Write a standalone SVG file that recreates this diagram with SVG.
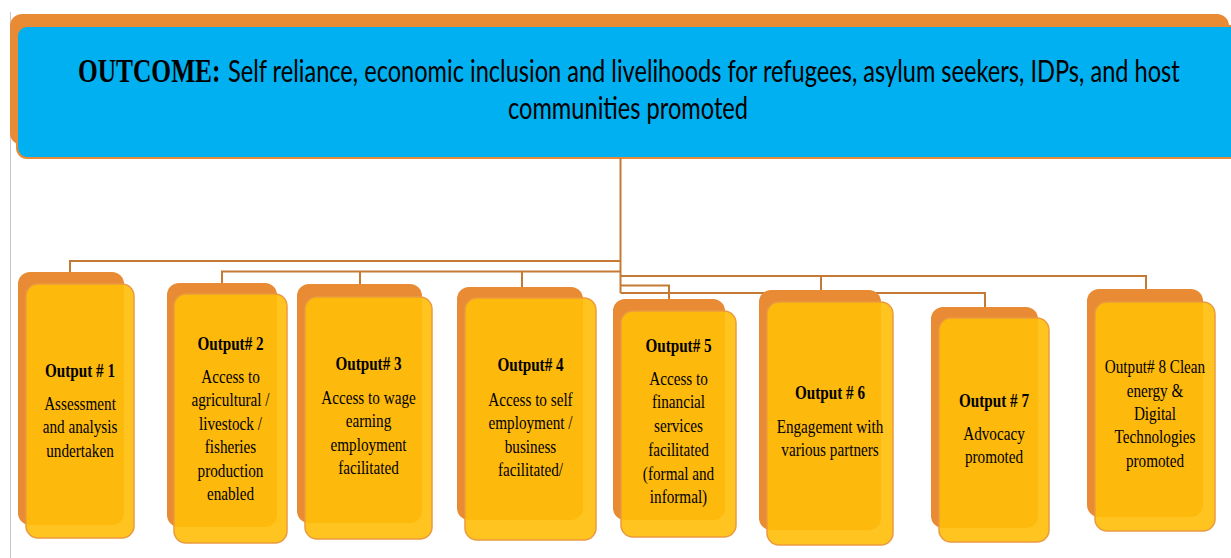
<svg xmlns="http://www.w3.org/2000/svg" width="1231" height="558" viewBox="0 0 1231 558">
<style>
.back{fill:#E88B34}
.front{fill:#FFBE08;fill-opacity:0.9;stroke:#EC9A3E;stroke-width:1.5}
.conn{fill:none;stroke:#C47A34;stroke-width:2}
.t{font-family:"Liberation Serif","Times New Roman",serif;font-size:19px;fill:#000;text-anchor:middle}
.b{font-weight:bold}
.h{font-family:Lato,"Liberation Sans",sans-serif;font-size:30px;fill:#000}
</style>
<rect width="1231" height="558" fill="#fff"/>
<line x1="10.5" y1="12" x2="10.5" y2="558" stroke="#C8C8C8" stroke-width="1"/>
<g id="outcome">
<rect class="back" x="10" y="14" width="1219" height="131" rx="12"/>
<rect x="17" y="26" width="1230" height="132" rx="10" fill="#00B0F0" stroke="#E88B34" stroke-width="2"/>
<g transform="translate(78,0) scale(0.75,1)">
<text x="0" y="82" font-family="'Liberation Serif','Times New Roman',serif" font-weight="bold" font-size="34" textLength="190" lengthAdjust="spacingAndGlyphs">OUTCOME:</text>
</g>
<g transform="translate(228,0) scale(0.75,1)">
<text class="h" x="0" y="82" textLength="1269" lengthAdjust="spacingAndGlyphs">Self reliance, economic inclusion and livelihoods for refugees, asylum seekers, IDPs, and host</text>
</g>
<g transform="translate(508,0) scale(0.75,1)">
<text class="h" x="0" y="119" textLength="320" lengthAdjust="spacingAndGlyphs">communities promoted</text>
</g>
</g>
<g id="connectors" class="conn">
<path d="M620.5,158 V293"/>
<path d="M70,272 V261 H620.5"/>
<path d="M222,283 V271.5 H620.5"/>
<path d="M360,284 V271.5"/>
<path d="M522,287 V271.5"/>
<path d="M620.5,276 H1146 V289"/>
<path d="M821,276 V290"/>
<path d="M620.5,285.5 H669 V299"/>
<path d="M620.5,293 H985 V307"/>
</g>
<g id="output1">
<rect class="back" x="18" y="272" width="106" height="253" rx="12"/>
<rect class="front" x="26" y="284" width="108" height="254" rx="12"/>
<g transform="translate(80,0) scale(0.8,1)">
<text class="t b" x="0" y="377">Output # 1</text>
<text class="t" x="0" y="410">Assessment</text>
<text class="t" x="0" y="433.5">and analysis</text>
<text class="t" x="0" y="457">undertaken</text>
</g>
</g>
<g id="output2">
<rect class="back" x="167" y="283" width="110" height="244" rx="12"/>
<rect class="front" x="174" y="294" width="113" height="249" rx="12"/>
<g transform="translate(230.5,0) scale(0.8,1)">
<text class="t b" x="0" y="350">Output# 2</text>
<text class="t" x="0" y="383">Access to</text>
<text class="t" x="0" y="406.5">agricultural /</text>
<text class="t" x="0" y="430">livestock /</text>
<text class="t" x="0" y="453.5">fisheries</text>
<text class="t" x="0" y="477">production</text>
<text class="t" x="0" y="500">enabled</text>
</g>
</g>
<g id="output3">
<rect class="back" x="297" y="284" width="125" height="239" rx="12"/>
<rect class="front" x="305" y="297" width="127" height="242" rx="12"/>
<g transform="translate(368.5,0) scale(0.8,1)">
<text class="t b" x="0" y="370">Output# 3</text>
<text class="t" x="0" y="404">Access to wage</text>
<text class="t" x="0" y="427.5">earning</text>
<text class="t" x="0" y="451">employment</text>
<text class="t" x="0" y="474">facilitated</text>
</g>
</g>
<g id="output4">
<rect class="back" x="457" y="287" width="126" height="233" rx="12"/>
<rect class="front" x="465" y="298" width="131" height="242" rx="12"/>
<g transform="translate(530.5,0) scale(0.8,1)">
<text class="t b" x="0" y="371">Output# 4</text>
<text class="t" x="0" y="406">Access to self</text>
<text class="t" x="0" y="429.5">employment /</text>
<text class="t" x="0" y="453">business</text>
<text class="t" x="0" y="476">facilitated/</text>
</g>
</g>
<g id="output5">
<rect class="back" x="613" y="299" width="112" height="221" rx="12"/>
<rect class="front" x="621" y="311" width="115" height="226" rx="12"/>
<g transform="translate(678.5,0) scale(0.8,1)">
<text class="t b" x="0" y="352">Output# 5</text>
<text class="t" x="0" y="385">Access to</text>
<text class="t" x="0" y="408.5">financial</text>
<text class="t" x="0" y="432">services</text>
<text class="t" x="0" y="456">facilitated</text>
<text class="t" x="0" y="480">(formal and</text>
<text class="t" x="0" y="503">informal)</text>
</g>
</g>
<g id="output6">
<rect class="back" x="759" y="290" width="122" height="240" rx="12"/>
<rect class="front" x="767" y="302" width="126" height="243" rx="12"/>
<g transform="translate(830,0) scale(0.8,1)">
<text class="t b" x="0" y="399">Output # 6</text>
<text class="t" x="0" y="433">Engagement with</text>
<text class="t" x="0" y="456">various partners</text>
</g>
</g>
<g id="output7">
<rect class="back" x="931" y="307" width="107" height="221" rx="12"/>
<rect class="front" x="939" y="318" width="110" height="224" rx="12"/>
<g transform="translate(994,0) scale(0.8,1)">
<text class="t b" x="0" y="407">Output # 7</text>
<text class="t" x="0" y="440">Advocacy</text>
<text class="t" x="0" y="463">promoted</text>
</g>
</g>
<g id="output8">
<rect class="back" x="1087" y="289" width="116" height="228" rx="12"/>
<rect class="front" x="1095" y="302" width="120" height="229" rx="12"/>
<g transform="translate(1155,0) scale(0.8,1)">
<text class="t" x="0" y="373">Output# 8 Clean</text>
<text class="t" x="0" y="397">energy &amp;</text>
<text class="t" x="0" y="420">Digital</text>
<text class="t" x="0" y="443.5">Technologies</text>
<text class="t" x="0" y="467">promoted</text>
</g>
</g>
</svg>
